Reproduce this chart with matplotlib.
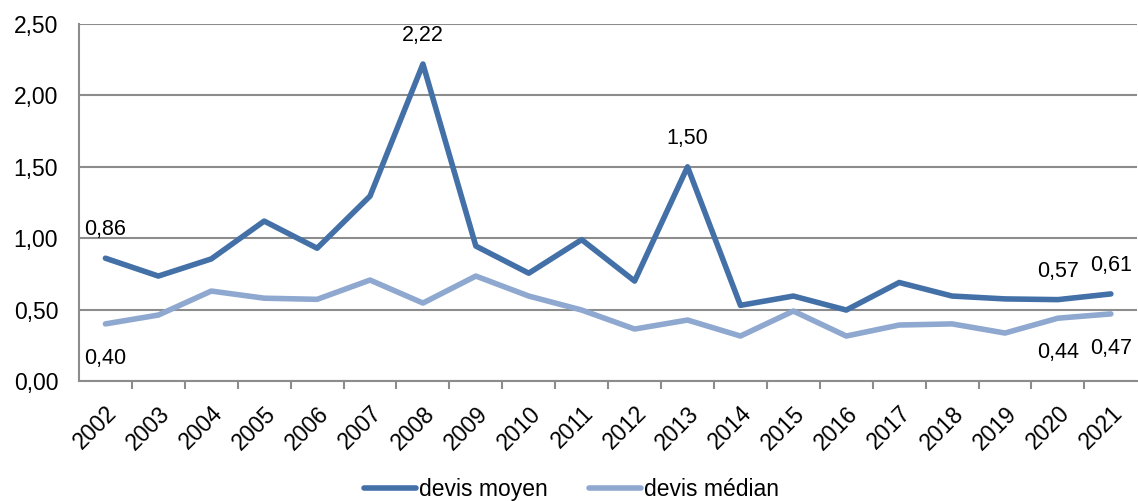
import numpy as np
import matplotlib.pyplot as plt

plt.rcParams['font.family'] = ['Liberation Sans', 'DejaVu Sans']

years = [str(y) for y in range(2002, 2022)]
devis_moyen = [0.86, 0.735, 0.855, 1.12, 0.93, 1.295, 2.22, 0.945, 0.755, 0.99,
               0.70, 1.50, 0.53, 0.595, 0.497, 0.69, 0.595, 0.575, 0.57, 0.61]
devis_median = [0.40, 0.462, 0.63, 0.58, 0.572, 0.707, 0.546, 0.735, 0.595, 0.497,
                0.364, 0.427, 0.315, 0.49, 0.315, 0.392, 0.40, 0.336, 0.44, 0.47]

# which points get a value label: (index, offset direction)
labels_moyen = [(0, 1), (6, 1), (11, 1), (18, 1), (19, 1)]
labels_median = [(0, -1), (18, -1), (19, -1)]

c_moyen = '#4470a8'
c_median = '#8ea8d0'

fig = plt.figure(figsize=(11.38, 5.01), dpi=100)
ax = fig.add_axes([0.0694, 0.2395, 0.93, 0.7125])

x = np.arange(len(years))
ax.plot(x, devis_moyen, color=c_moyen, lw=4, solid_capstyle='round', label='devis moyen')
ax.plot(x, devis_median, color=c_median, lw=4, solid_capstyle='round', label='devis médian')

for i, d in labels_moyen:
    ax.annotate(f"{devis_moyen[i]:.2f}".replace('.', ','), (x[i], devis_moyen[i]),
                xytext=(0, 13), textcoords='offset points', ha='center',
                va='bottom', fontsize=15.5)
for i, d in labels_median:
    ax.annotate(f"{devis_median[i]:.2f}".replace('.', ','), (x[i], devis_median[i]),
                xytext=(0, -17), textcoords='offset points', ha='center',
                va='top', fontsize=15.5)

ax.set_xlim(-0.5, len(years) - 0.5)
ax.set_ylim(0, 2.5)
yt = np.arange(0, 2.51, 0.5)
ax.set_yticks(yt)
ax.set_yticklabels([f"{v:.2f}".replace('.', ',') for v in yt], fontsize=16.5)
ax.set_xticks(x)
ax.set_xticklabels(years, rotation=45, ha='right', rotation_mode='anchor', fontsize=16.5)
ax.set_xticks(np.arange(0.5, len(years) - 0.5), minor=True)
ax.tick_params(axis='x', which='major', length=0, pad=15)
ax.tick_params(axis='x', which='minor', length=6, width=1.5, color='#8c8c8c', direction='out')
ax.tick_params(axis='y', length=0, pad=15)

ax.grid(axis='y', color='#8c8c8c', lw=1.5)
ax.set_axisbelow(True)
for s in ['top', 'right']:
    ax.spines[s].set_visible(False)
for s in ['left', 'bottom']:
    ax.spines[s].set_color('#8c8c8c')
    ax.spines[s].set_linewidth(1.5)

fig.legend(loc='center', bbox_to_anchor=(0.502, 0.022), ncol=2, frameon=False,
           fontsize=16.5, handlelength=2.3, handletextpad=0.1, columnspacing=1.8)

fig.savefig('out.png', dpi=100)
